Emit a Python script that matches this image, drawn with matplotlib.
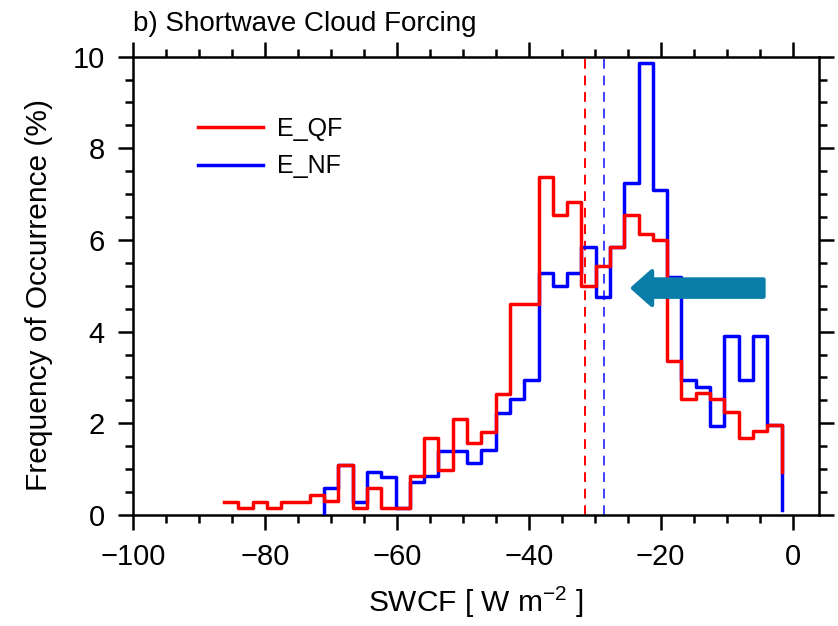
import numpy as np
import matplotlib
matplotlib.use("Agg")
import matplotlib.pyplot as plt
from matplotlib.patches import FancyArrow
from matplotlib.ticker import MultipleLocator

plt.rcParams["font.family"] = ["Liberation Sans", "DejaVu Sans"]

# Histogram bin edges (W m-2), shared by both experiments
bin_edges = np.linspace(-86.2, -1.68, 40)

# Frequency of occurrence (%) per bin
qf_freq = [0.29, 0.15, 0.29, 0.15, 0.29, 0.29, 0.44, 0.31, 1.10, 0.16,
           0.58, 0.16, 0.16, 0.86, 1.67, 0.98, 2.09, 1.56, 1.82, 2.65,
           4.60, 4.60, 7.38, 6.54, 6.82, 5.00, 5.43, 5.84, 6.54, 6.13,
           6.00, 3.35, 2.52, 2.67, 2.52, 2.24, 1.69, 1.84, 1.96]
nf_freq = [0.58, 1.10, 0.29, 0.93, 0.84, 0.16, 0.71, 0.85, 1.40, 1.40,
           1.13, 1.42, 2.22, 2.52, 2.94, 5.27, 5.00, 5.27, 5.84, 4.75,
           5.84, 7.24, 9.87, 7.09, 5.19, 2.94, 2.80, 1.95, 3.91, 2.94,
           3.91, 1.96]
nf_first_bin = 7

# Values at which each curve's last segment terminates
qf_tail = 0.94
nf_tail = 0.12

# Mean SWCF of each experiment
qf_mean = -31.5
nf_mean = -28.6

labels = ["E_QF", "E_NF"]
colors = ["#ff0000", "#0000ff"]

fig = plt.figure(figsize=(8.38, 6.26), dpi=100)
ax = fig.add_axes([0.1587, 0.1773, 0.8186, 0.7323])


def step_curve(edges, vals, tail, start_from_zero):
    x = list(edges) + [edges[-1]]
    y = list(vals) + [vals[-1], tail]
    if start_from_zero:
        x = [edges[0]] + x
        y = [0.0] + y
    return x, y


nf_edges = bin_edges[nf_first_bin:]
xb, yb = step_curve(nf_edges, nf_freq, nf_tail, True)
xr, yr = step_curve(bin_edges, qf_freq, qf_tail, False)

ax.plot(xb, yb, drawstyle="steps-post", color=colors[1], lw=2.5,
        label=labels[1], zorder=3)
ax.plot(xr, yr, drawstyle="steps-post", color=colors[0], lw=2.5,
        label=labels[0], zorder=4)

ax.axvline(qf_mean, color=colors[0], lw=1.4, ls=(0, (5, 3.5)), zorder=2)
ax.axvline(nf_mean, color="#4040ff", lw=1.4, ls=(0, (5, 3.5)), zorder=2)

# Highlight arrow
arrow_tail_x, arrow_tip_x, arrow_y = -4.4, -24.2, 4.95
ax.add_patch(FancyArrow(arrow_tail_x, arrow_y, arrow_tip_x - arrow_tail_x, 0,
                        width=0.38, head_width=0.74, head_length=2.9,
                        length_includes_head=True, color="#0a7ea8",
                        lw=3, joinstyle="round", capstyle="round", zorder=6))

ax.set_xlim(-100, 4)
ax.set_ylim(0, 10)
ax.xaxis.set_major_locator(MultipleLocator(20))
ax.xaxis.set_minor_locator(MultipleLocator(5))
ax.yaxis.set_major_locator(MultipleLocator(2))
ax.yaxis.set_minor_locator(MultipleLocator(0.5))
ax.tick_params(which="both", direction="out", top=True, right=True,
               labelsize=21, width=1.8, color="black")
ax.tick_params(which="major", length=10.5, pad=10)
ax.tick_params(which="minor", length=5.5)
for s in ax.spines.values():
    s.set_linewidth(1.8)

ax.set_xlabel("SWCF [ W m$^{\\mathregular{-2}}$ ]", fontsize=21.5, labelpad=9)
ax.set_ylabel("Frequency of Occurrence (%)", fontsize=21.5)
ax.yaxis.set_label_coords(-0.117, 0.48)

fig.text(133 / 838, 1 - 31 / 626, "b) Shortwave Cloud Forcing",
         fontsize=20, va="baseline", ha="left")

handles, labs = ax.get_legend_handles_labels()
order = [labs.index(l) for l in labels]
ax.legend([handles[i] for i in order], [labs[i] for i in order],
          loc="upper left", bbox_to_anchor=(0.062, 0.918), frameon=False,
          fontsize=18, handlelength=2.6, handletextpad=0.55,
          labelspacing=0.55)

fig.savefig("out.png", dpi=100)
